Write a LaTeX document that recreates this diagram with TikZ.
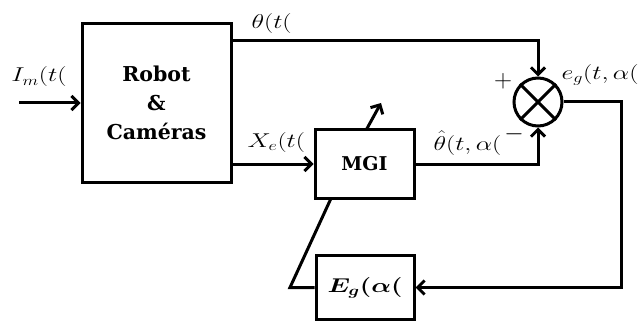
\RequirePackage{fix-cm}
\documentclass[tikz,border=0pt]{standalone}
\usepackage{fontspec}
\setmainfont{DejaVu Serif}
\usepackage{amsmath,bm}
\usetikzlibrary{arrows.meta,calc}
\newcommand\lbx[1]{\scalebox{1.3}[1]{$#1$}}
\begin{document}
\begin{tikzpicture}[x=1pt,y=-1pt,line width=3pt,
  blk/.style={draw,rectangle,inner sep=0pt,font=\bfseries\fontsize{19}{29}\selectfont,align=center},
  lbl/.style={inner sep=0pt,anchor=base west,font=\fontsize{20}{24}\selectfont},
  sgn/.style={inner sep=0pt,anchor=center,font=\fontsize{25}{28}\selectfont},
  arr/.style={-{Straight Barb[length=7pt,width=14pt,line width=3pt]}}]
\useasboundingbox (0,0) rectangle (638,321);
\node[blk,minimum width=149pt,minimum height=158pt,font=\bfseries\fontsize{20.5}{29}\selectfont] (robot) at (156.5,103) {Robot\\\&\\Caméras};
\node[blk,minimum width=99pt,minimum height=68pt] (mgi) at (364.5,164) {MGI};
\node[blk,minimum width=98pt,minimum height=64pt,font=\fontsize{20}{22}\selectfont] (eg) at (365,287.5) {\lbx{\bm{E}_{\bm{g}}\bm{(}\bm{\alpha}\bm{(}}};
\node[draw,circle,inner sep=0pt,minimum size=48pt] (sum) at (538,102) {};
\draw (sum.north west) -- (sum.south east) (sum.north east) -- (sum.south west);
\coordinate (in) at (19,103);
\coordinate (thc) at (538,41);
\coordinate (oc) at (621,287.5);
\coordinate (fb) at (290,287.5);
\coordinate (up) at (381,103);
\draw[arr] (in) -- (robot.west);
\draw[arr] (robot.east |- thc) -- (thc) -- (sum.north);
\draw[arr] (robot.east |- mgi.west) -- (mgi.west);
\draw[arr] (mgi.east) -| (sum.south);
\draw[arr] (sum.east) -| (oc) -- (eg.east);
\draw ($(mgi.south west)+(17,0)$) -- (fb) -- (eg.west);
\draw[arr] ($(mgi.north)+(2.5,0)$) -- (up);
\node[lbl] (lim) at (10,82) {\lbx{I_m(t(}};
\node[lbl] (lth) at (250,29) {\lbx{\theta(t(}};
\node[lbl] (lxe) at (246,147) {\lbx{X_e(t(}};
\node[lbl] (lthh) at (432,150) {\lbx{\hat{\theta}(t,\alpha(}};
\node[sgn] (lminus) at (514,134) {$-$};
\node[sgn] (lplus) at (503,81) {$+$};
\node[lbl] (leg) at (560,80) {\lbx{e_g(t,\alpha(}};
\end{tikzpicture}
\end{document}
